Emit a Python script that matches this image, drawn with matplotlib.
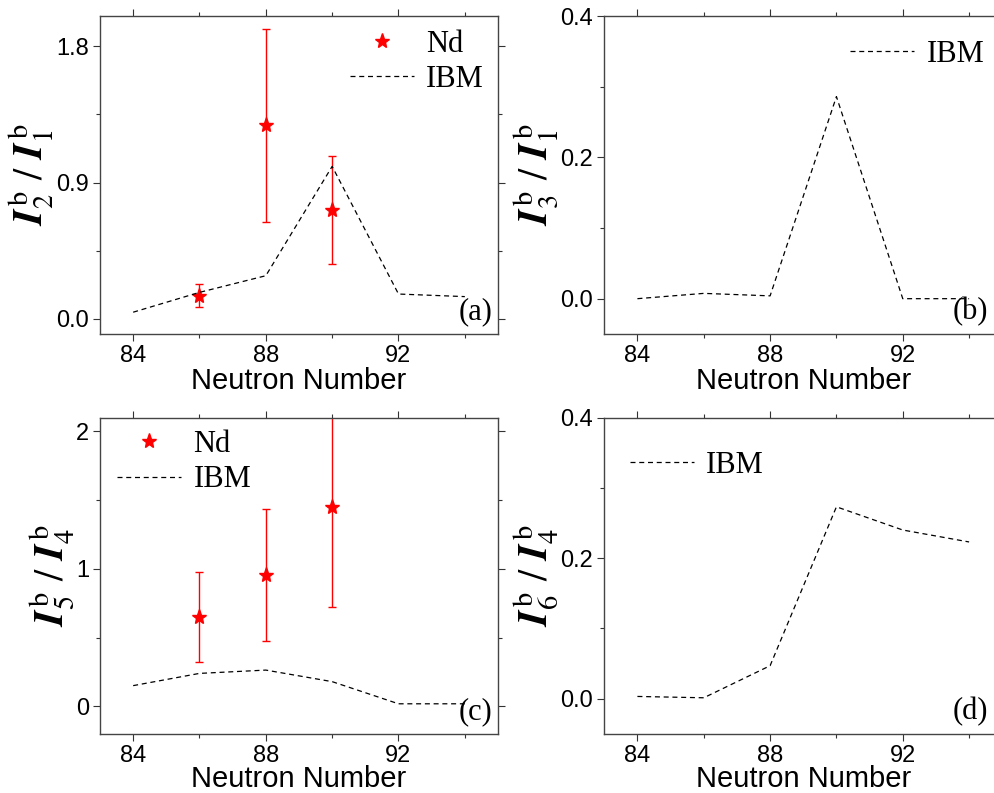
import matplotlib
matplotlib.use("Agg")
import matplotlib.pyplot as plt
from matplotlib.ticker import MultipleLocator, FormatStrFormatter

plt.rcParams["font.family"] = "Liberation Sans"
plt.rcParams["mathtext.fontset"] = "stix"

# Neutron numbers
n_ibm = [84, 86, 88, 90, 92, 94]
n_nd = [86, 88, 90]

# (a) I2/I1
ibm_a = [0.044, 0.175, 0.285, 1.007, 0.164, 0.147]
nd_a = [0.153, 1.277, 0.718]
nd_a_err = [0.074, 0.636, 0.358]

# (b) I3/I1
ibm_b = [0.0, 0.0075, 0.004, 0.286, 0.0, 0.0]

# (c) I5/I4
ibm_c = [0.151, 0.240, 0.264, 0.180, 0.019, 0.019]
nd_c = [0.649, 0.956, 1.446]
nd_c_err = [0.325, 0.478, 0.725]

# (d) I6/I4
ibm_d = [0.0033, 0.0014, 0.047, 0.273, 0.240, 0.223]

fig = plt.figure(figsize=(9.95, 7.93), dpi=100)
ax_a = fig.add_axes([0.1005, 0.5788, 0.400, 0.401])
ax_b = fig.add_axes([0.6073, 0.5788, 0.400, 0.401])
ax_c = fig.add_axes([0.1005, 0.0745, 0.400, 0.399])
ax_d = fig.add_axes([0.6073, 0.0745, 0.400, 0.399])

serif = "Liberation Serif"


def style(ax, ylim, major, minor, ylabel, tag, tag_x=0.985, fmt=None,
          xpad=0):
    ax.set_xlim(83, 95)
    ax.set_ylim(*ylim)
    ax.xaxis.set_major_locator(MultipleLocator(4))
    ax.xaxis.set_minor_locator(MultipleLocator(2))
    ax.yaxis.set_major_locator(MultipleLocator(major))
    ax.yaxis.set_minor_locator(MultipleLocator(minor))
    if fmt:
        ax.yaxis.set_major_formatter(FormatStrFormatter(fmt))
    ax.tick_params(which="both", direction="out", top=True, right=True,
                   labelsize=17, width=0.8, colors="#333333",
                   labelcolor="black", pad=3)
    ax.tick_params(which="major", length=5)
    ax.tick_params(which="minor", length=3)
    for s in ax.spines.values():
        s.set_linewidth(1.0)
        s.set_color("#444444")
    ax.set_xlabel("Neutron Number", fontsize=21, labelpad=xpad)
    ax.set_ylabel(ylabel, fontsize=29, labelpad=0)
    ax.text(tag_x, 0.025, tag, transform=ax.transAxes, ha="right",
            va="bottom", fontsize=22, family=serif)


def ylab(a, b):
    return (r"$\mathbfit{I}_{%d}^{\,\mathrm{b}}\ /\ \mathbfit{I}_{%d}^{\,\mathrm{b}}$"
            % (a, b))


dash = dict(color="black", lw=0.9, linestyle=(0, (4, 3)))
bar_style = dict(fmt="none", ecolor="red", elinewidth=1.0, capsize=3,
                 capthick=1.0)
star = dict(marker="*", color="red", markersize=11, linestyle="none")
leg_kw = dict(frameon=False, handlelength=2.1, numpoints=1,
              handletextpad=0.4, labelspacing=0.2, borderpad=0,
              borderaxespad=0, prop={"family": serif, "size": 22})

# (a)
ax_a.errorbar(n_nd, nd_a, yerr=nd_a_err, **bar_style)
ax_a.plot(n_nd, nd_a, label="Nd", **star)
ax_a.plot(n_ibm, ibm_a, label="IBM", **dash)
style(ax_a, (-0.1, 2.0), 0.9, 0.45, ylab(2, 1), "(a)", fmt="%.1f")
ax_a.legend(loc="upper right", bbox_to_anchor=(0.965, 0.957), **leg_kw)

# (b)
ax_b.plot(n_ibm, ibm_b, label="IBM", **dash)
style(ax_b, (-0.05, 0.4), 0.2, 0.1, ylab(3, 1), "(b)", tag_x=0.965,
      fmt="%.1f")
ax_b.legend(loc="upper right", bbox_to_anchor=(0.955, 0.925), **leg_kw)

# (c)
ax_c.errorbar(n_nd, nd_c, yerr=nd_c_err, **bar_style)
ax_c.plot(n_nd, nd_c, label="Nd", **star)
ax_c.plot(n_ibm, ibm_c, label="IBM", **dash)
style(ax_c, (-0.2, 2.1), 1, 0.5, ylab(5, 4), "(c)", xpad=-1.5)
ax_c.legend(loc="upper left", bbox_to_anchor=(0.043, 0.96), **leg_kw)

# (d)
ax_d.plot(n_ibm, ibm_d, label="IBM", **dash)
style(ax_d, (-0.05, 0.4), 0.2, 0.1, ylab(6, 4), "(d)", tag_x=0.965,
      fmt="%.1f", xpad=-1.5)
ax_d.legend(loc="upper left", bbox_to_anchor=(0.064, 0.895), **leg_kw)

fig.savefig("out.png", dpi=100)
